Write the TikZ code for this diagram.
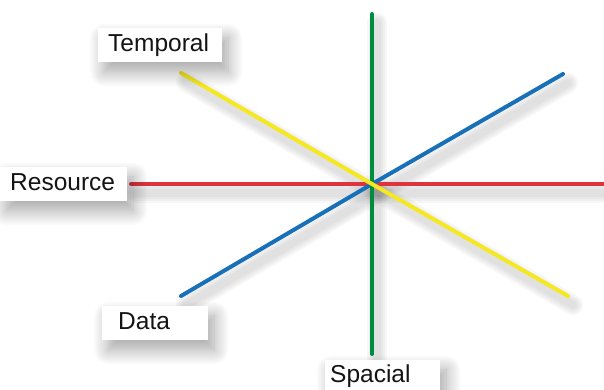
\documentclass[tikz,border=0pt]{standalone}
\usepackage{fontspec}
\setmainfont{Liberation Sans}
\usetikzlibrary{shadows.blur}
\definecolor{axgreen}{RGB}{0,140,62}
\definecolor{axred}{RGB}{222,52,62}
\definecolor{axblue}{RGB}{24,112,184}
\definecolor{axyellow}{RGB}{246,232,30}
\definecolor{txt}{RGB}{20,20,20}
\begin{document}
\begin{tikzpicture}[x=1pt,y=1pt,
  lbl/.style={fill=white, text=txt, font=\fontsize{24.5}{27}\selectfont,
    anchor=west, align=left, inner xsep=10pt, inner ysep=0pt, text height=18pt, text depth=5pt,
    blur shadow={shadow xshift=6pt, shadow yshift=-10pt, shadow blur steps=16, shadow blur radius=15pt, shadow opacity=36}},
  axis/.style={line width=4pt, line cap=round},
  haze/.style={line cap=round, draw=black, opacity=0.03}]
\useasboundingbox (0,0) rectangle (604,390);
% coordinates (y flipped: y' = 390 - y)
\coordinate (c) at (372,206);
\coordinate (gT) at (372,376);
\coordinate (gB) at (372,36);
\coordinate (rL) at (131,206);
\coordinate (rR) at (604,206);
\coordinate (yL) at (181,317);
\coordinate (yR) at (568,94);
\coordinate (bL) at (181,94);
\coordinate (bR) at (563,316);
% soft haze shadows
\foreach \d in {0,4,8,12}{
  \draw[haze, line width=8pt+\d pt] ([shift={(5,-9)}]gT) -- ([shift={(5,-9)}]gB);
  \draw[haze, line width=8pt+\d pt] ([shift={(5,-9)}]rL) -- ([shift={(5,-9)}]rR);
  \draw[haze, line width=8pt+\d pt] ([shift={(5,-9)}]yL) -- ([shift={(5,-9)}]yR);
  \draw[haze, line width=8pt+\d pt] ([shift={(5,-9)}]bL) -- ([shift={(5,-9)}]bR);
}
% axes
\draw[axis, axred] (rL) -- (c) -- (rR);
\draw[axis, axblue] (bL) -- (c) -- (bR);
\draw[axis, axgreen] (gT) -- (c) -- (gB);
\draw[axis, axyellow] (yL) -- (c) -- (yR);
% labels
\node[lbl, text width=104pt, minimum height=34pt] (temporal) at (98,345) {Temporal};
\node[lbl, text width=107pt, minimum height=34pt] (resource) at (0,206) {Resource};
\node[lbl, minimum height=34pt, inner xsep=0pt, text width=106pt] (data) at (102,67) {\hspace*{16pt}Data};
\node[lbl, minimum height=32pt, inner xsep=0pt, text width=115pt] (spacial) at (325,14) {\hspace*{5pt}Spacial};
\end{tikzpicture}
\end{document}
